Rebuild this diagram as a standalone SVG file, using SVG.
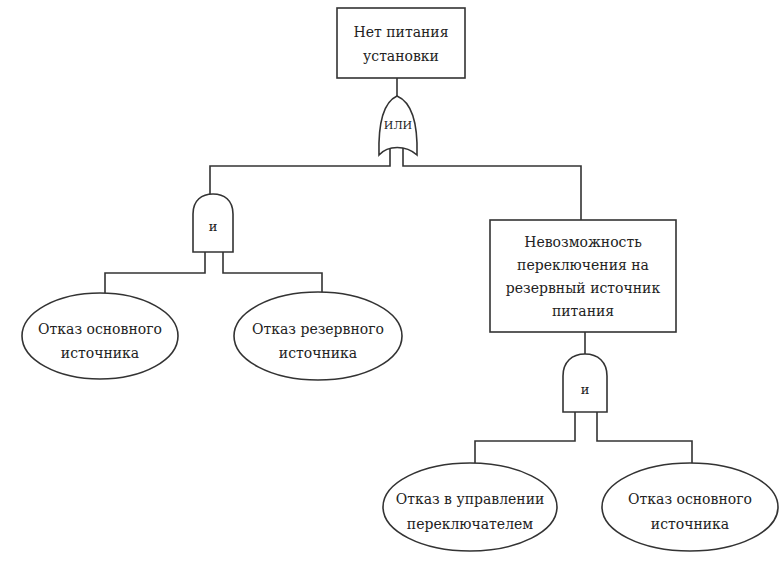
<svg xmlns="http://www.w3.org/2000/svg" width="781" height="562" viewBox="0 0 781 562">
<style>
.s{fill:#fff;stroke:#333;stroke-width:1.6}
.c{fill:none;stroke:#333;stroke-width:1.6}
text{font-family:'DejaVu Serif','Liberation Serif',serif;font-size:14px;fill:#222;text-anchor:middle}
</style>
<rect width="781" height="562" fill="#fff"/>
<g id="connectors">
<path class="c" d="M397 78V97"/>
<path class="c" d="M390 146V166H210V194"/>
<path class="c" d="M403 146V166H581V220"/>
<path class="c" d="M205 252V273H105V293"/>
<path class="c" d="M223 252V273H322V293"/>
<path class="c" d="M585 332V354"/>
<path class="c" d="M575 412V441H475V463"/>
<path class="c" d="M597 412V441H692V463"/>
</g>
<g id="top">
<rect class="s" x="337" y="8" width="128" height="70"/>
<text x="401" y="37">Нет питания</text>
<text x="401" y="61">установки</text>
</g>
<g id="or-gate">
<path class="s" d="M397 96C384 102 378 120 379 155C388 145 406 145 417 155C418 120 411 102 397 96Z"/>
<text x="398" y="129" style="font-size:11px">ИЛИ</text>
</g>
<g id="and1">
<path class="s" d="M193 252V214C193 200 202 194 213 194C224 194 233 200 233 214V252Z"/>
<text x="213" y="231" style="font-size:13px">и</text>
</g>
<g id="e1">
<ellipse class="s" cx="100" cy="336" rx="78" ry="43"/>
<text x="100" y="334">Отказ основного</text>
<text x="100" y="358">источника</text>
</g>
<g id="e2">
<ellipse class="s" cx="318" cy="336" rx="84" ry="44"/>
<text x="318" y="334">Отказ резервного</text>
<text x="318" y="358">источника</text>
</g>
<g id="box2">
<rect class="s" x="490" y="220" width="186" height="112"/>
<text x="583" y="247">Невозможность</text>
<text x="583" y="270">переключения на</text>
<text x="583" y="293">резервный источник</text>
<text x="583" y="316">питания</text>
</g>
<g id="and2">
<path class="s" d="M563 412V376C563 362 572 354 585 354C598 354 607 362 607 376V412Z"/>
<text x="585" y="394" style="font-size:13px">и</text>
</g>
<g id="e3">
<ellipse class="s" cx="470" cy="507" rx="87" ry="44"/>
<text x="470" y="504">Отказ в управлении</text>
<text x="470" y="529">переключателем</text>
</g>
<g id="e4">
<ellipse class="s" cx="690" cy="507" rx="88" ry="44"/>
<text x="690" y="504">Отказ основного</text>
<text x="690" y="529">источника</text>
</g>
</svg>
